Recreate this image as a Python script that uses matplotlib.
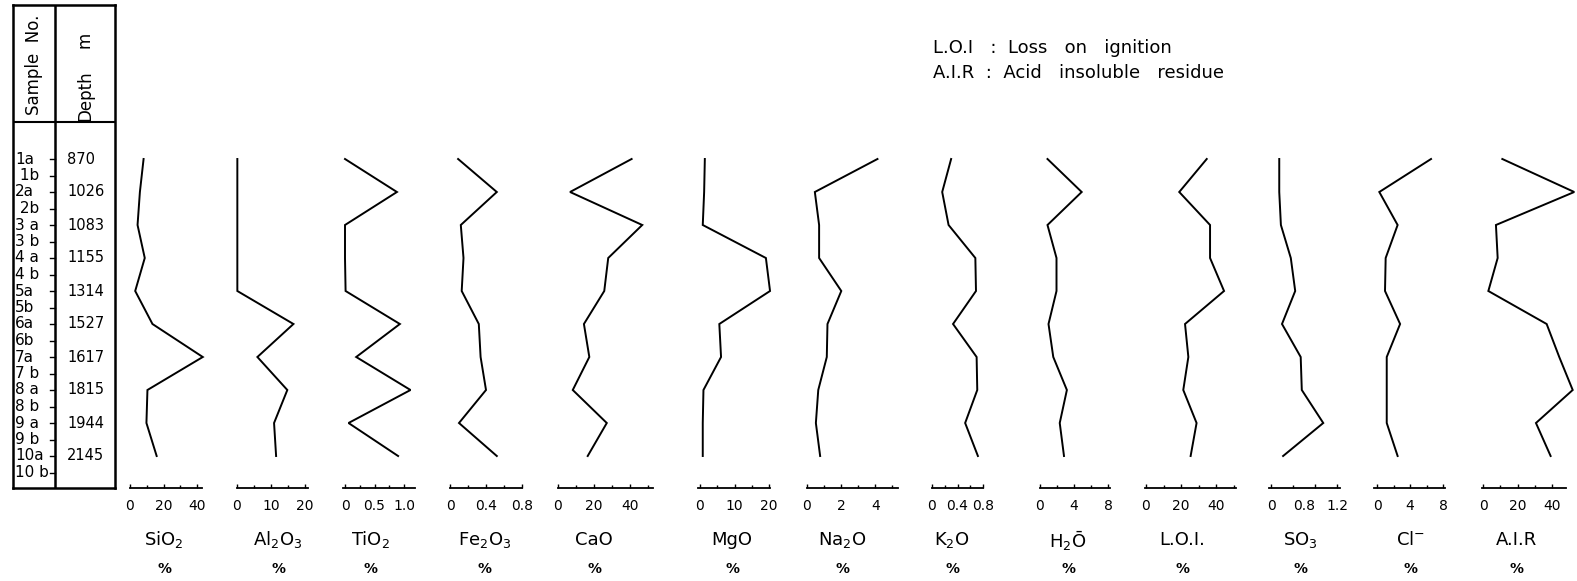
import numpy as np
import matplotlib.pyplot as plt
from matplotlib.ticker import MultipleLocator

W, H = 1577, 581

# ── Data ─────────────────────────────────────────────────────────
samples = ["1a", " 1b", "2a", " 2b", "3 a", "3 b", "4 a", "4 b", "5a", "5b",
           "6a", "6b", "7a", "7 b", "8 a", "8 b", "9 a", "9 b", "10a", "10 b"]
depths = ["870", "1026", "1083", "1155", "1314", "1527", "1617", "1815", "1944", "2145"]

sio2 = [8.1, 5.9, 4.5, 8.8, 3.1, 13.4, 43.4, 10.4, 9.8, 15.9]
al2o3 = [0.1, 0.1, 0.1, 0.1, 0.1, 16.6, 6.0, 14.8, 10.9, 11.5]
tio2 = [0.0, 0.88, 0.0, 0.0, 0.01, 0.93, 0.19, 1.11, 0.06, 0.90]
fe2o3 = [0.09, 0.52, 0.12, 0.15, 0.13, 0.32, 0.34, 0.40, 0.10, 0.52]
cao = [40.9, 6.7, 46.8, 27.9, 25.7, 14.4, 17.4, 8.2, 27.1, 16.5]
mgo = [1.4, 1.2, 0.8, 19.1, 20.3, 5.6, 6.1, 1.0, 0.8, 0.8]
na2o = [4.13, 0.46, 0.71, 0.71, 2.01, 1.20, 1.16, 0.66, 0.52, 0.77]
k2o = [0.30, 0.16, 0.26, 0.68, 0.69, 0.33, 0.70, 0.71, 0.52, 0.72]
h2o = [0.88, 4.9, 0.88, 1.94, 1.94, 1.0, 1.56, 3.16, 2.32, 2.82]
loi = [34.7, 19.0, 36.6, 36.6, 44.6, 22.3, 24.2, 21.3, 28.9, 25.5]
so3 = [0.15, 0.15, 0.18, 0.36, 0.44, 0.20, 0.54, 0.56, 0.95, 0.22]
cl = [6.55, 0.28, 2.5, 1.05, 0.97, 2.8, 1.18, 1.18, 1.18, 2.5]
air = [11.2, 52.9, 7.5, 8.5, 3.1, 36.9, 44.2, 52.0, 30.7, 39.2]

labels = ["SiO$_2$", "Al$_2$O$_3$", "TiO$_2$", "Fe$_2$O$_3$", "CaO", "MgO",
          "Na$_2$O", "K$_2$O", "H$_2$Ō", "L.O.I.", "SO$_3$", "Cl$^{-}$", "A.I.R"]
series = [sio2, al2o3, tio2, fe2o3, cao, mgo, na2o, k2o, h2o, loi, so3, cl, air]
ticks = [[0, 20, 40], [0, 10, 20], [0, 0.5, 1.0], [0, 0.4, 0.8], [0, 20, 40],
         [0, 10, 20], [0, 2, 4], [0, 0.4, 0.8], [0, 4, 8], [0, 20, 40],
         [0, 0.8, 1.2], [0, 4, 8], [0, 20, 40]]
ticklabels = [["0", "20", "40"], ["0", "10", "20"], ["0", "0.5", "1.0"],
              ["0", "0.4", "0.8"], ["0", "20", "40"], ["0", "10", "20"],
              ["0", "2", "4"], ["0", "0.4", "0.8"], ["0", "4", "8"],
              ["0", "20", "40"], ["0", "0.8", "1.2"], ["0", "4", "8"],
              ["0", "20", "40"]]
minor = [10, 5, 0.25, 0.2, 10, 5, 1, 0.2, 2, 10, 0.4, 2, 10]

# ── Layout (pixels) ──────────────────────────────────────────────
# bar start, bar end, pixel of 0, pixel of last tick label, label centre
layout = [
    (130, 202, 129, 197, 164),
    (237, 308, 237, 305, 278),
    (343, 415, 345, 404, 371),
    (450, 522, 448, 522, 485),
    (558, 653, 558, 630, 594),
    (698, 770, 700, 769, 732),
    (807, 898, 806, 875, 842),
    (932, 983, 929, 985, 952),
    (1040, 1110, 1038, 1108, 1068),
    (1145, 1236, 1146, 1216, 1182),
    (1269, 1340, 1271, 1337, 1300),
    (1374, 1445, 1377, 1443, 1410),
    (1482, 1566, 1483, 1552, 1516),
]
Y_TOP, Y_BAR = 140, 488
ROW0, ROW_STEP = 159, 33.0


def rows_at(px):
    return (px - ROW0) / ROW_STEP


fig = plt.figure(figsize=(W / 100, H / 100), dpi=100)
fig.patch.set_facecolor("white")


def add_px_axes(x0, x1, y0, y1):
    return fig.add_axes([x0 / W, 1 - y1 / H, (x1 - x0) / W, (y1 - y0) / H])


rows = np.arange(len(depths))

# ── Profile panels ───────────────────────────────────────────────
for vals, lab, tk, tl, mn, (b0, b1, p0, ptop, cx) in zip(
        series, labels, ticks, ticklabels, minor, layout):
    k = (ptop - p0) / tk[-1]
    ax = add_px_axes(b0, b1, Y_TOP, Y_BAR)
    ax.patch.set_visible(False)
    ax.set_xlim((b0 - p0) / k, (b1 - p0) / k)
    ax.set_ylim(rows_at(Y_BAR), rows_at(Y_TOP))
    ax.plot(vals, rows, color="black", lw=1.4, clip_on=False,
            solid_joinstyle="miter")
    for s in ("top", "left", "right"):
        ax.spines[s].set_visible(False)
    ax.spines["bottom"].set_linewidth(1.3)
    ax.set_yticks([])
    ax.set_xticks(tk)
    tls = ax.set_xticklabels(tl)
    if tl[1] == "0.8" and tl[2] == "1.2":
        tls[1].set_ha("right")  # crowded SO3 scale, as hand-lettered
    ax.xaxis.set_minor_locator(MultipleLocator(mn))
    ax.tick_params(axis="x", which="major", direction="in", length=3,
                   width=1, pad=8, labelsize=10)
    ax.tick_params(axis="x", which="minor", direction="in", length=2, width=1)
    fig.text(cx / W, 1 - 540 / H, lab, ha="center", va="center", fontsize=13)
    fig.text(cx / W, 1 - 569 / H, "%", ha="center", va="center",
             fontsize=10, fontweight="bold")

# ── Sample / depth table ─────────────────────────────────────────
tab = add_px_axes(13, 115, 5, 488)
tab.set_xlim(13, 115)
tab.set_ylim(rows_at(488), rows_at(5))
tab.set_xticks([])
tab.set_yticks([])
for s in tab.spines.values():
    s.set_linewidth(1.8)
tab.axvline(55.5, color="black", lw=1.8)
tab.axhline(rows_at(122), color="black", lw=1.5)

tab.text(34, rows_at(65), "Sample  No.", rotation=90, ha="center",
         va="center", fontsize=12)
tab.text(85, rows_at(96), "Depth", rotation=90, ha="center", va="center",
         fontsize=12)
tab.text(85, rows_at(40), "m", rotation=90, ha="center", va="center",
         fontsize=12)

for j, s in enumerate(samples):
    tab.text(15, j * 0.5, s, ha="left", va="center", fontsize=11)
    tab.plot([50, 55.5], [j * 0.5, j * 0.5], color="black", lw=1)
for i, d in enumerate(depths):
    tab.text(67, rows[i], d, ha="left", va="center", fontsize=10.5)

# ── Abbreviation notes ───────────────────────────────────────────
fig.text(933 / W, 1 - 48 / H, "L.O.I   :  Loss   on   ignition",
         ha="left", va="center", fontsize=13)
fig.text(933 / W, 1 - 73 / H, "A.I.R  :  Acid   insoluble   residue",
         ha="left", va="center", fontsize=13)

fig.savefig("out.png", dpi=100, facecolor="white")
